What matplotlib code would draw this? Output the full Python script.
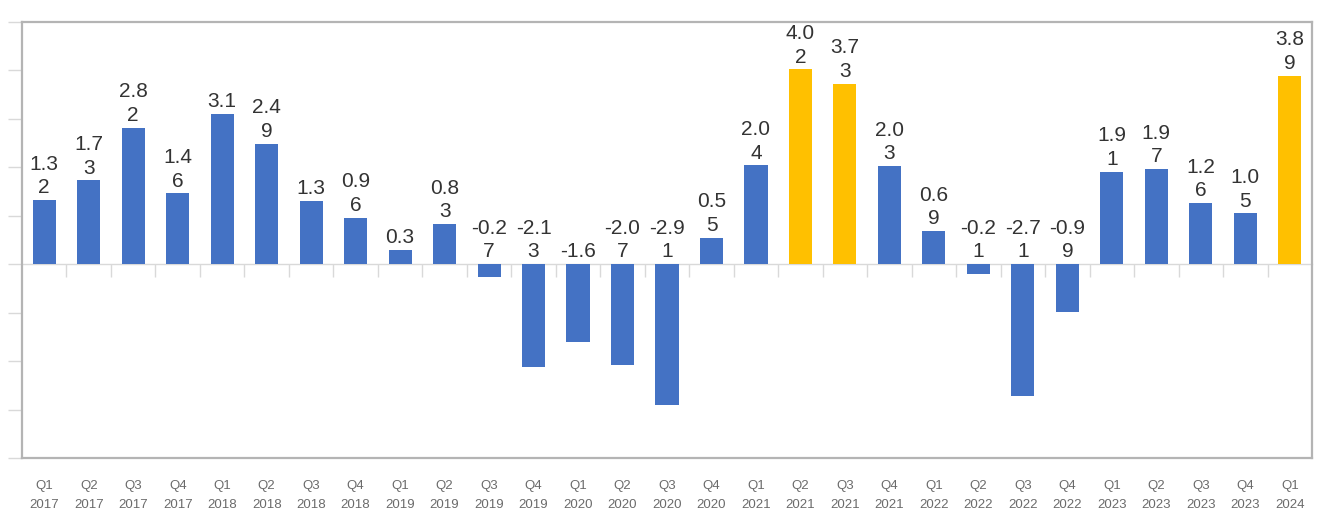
import matplotlib
matplotlib.use("Agg")
import matplotlib.pyplot as plt
import numpy as np

# --------------------------------------------------------
# DATA
# --------------------------------------------------------
quarters = ["Q1", "Q2", "Q3", "Q4"] * 7 + ["Q1"]
years = [str(y) for y in range(2017, 2024) for _ in range(4)] + ["2024"]

values = [1.32, 1.73, 2.82, 1.46,
          3.1, 2.49, 1.3, 0.96,
          0.3, 0.83, -0.27, -2.13,
          -1.6, -2.07, -2.91, 0.55,
          2.04, 4.02, 3.73, 2.03,
          0.69, -0.21, -2.71, -0.99,
          1.91, 1.97, 1.26, 1.05,
          3.89]

highlight = ["Q2 2021", "Q3 2021", "Q1 2024"]

BLUE = "#4472C4"
YELLOW = "#FFC000"
FRAME = "#B4B4B4"
LIGHT = "#D9D9D9"


def wrap_label(v):
    # Excel-style narrow label: long numbers spill onto a second line
    s = f"{v:g}"
    if len(s.lstrip("-")) > 3:
        s = s[:-1] + "\n" + s[-1]
    return s


# --------------------------------------------------------
# PLOT
# --------------------------------------------------------
plt.rcParams["font.family"] = ["Liberation Sans", "DejaVu Sans"]

fig = plt.figure(figsize=(13.32, 5.32), dpi=100)
ax = fig.add_axes([22 / 1332, 74 / 532, 1290 / 1332, 436 / 532])

x = np.arange(len(values))
labels = [f"{q}\n{y}" for q, y in zip(quarters, years)]
colors = [YELLOW if lab.replace("\n", " ") in highlight else BLUE for lab in labels]

ax.bar(x, values, width=0.52, color=colors, zorder=3)

for xi, v in zip(x, values):
    ax.annotate(wrap_label(v), (xi, max(v, 0)), xytext=(0, 2),
                textcoords="offset points", ha="center", va="bottom",
                multialignment="center", fontsize=15, color="#333333",
                linespacing=1.3, clip_on=False, zorder=4)

ax.set_xlim(-0.5, len(values) - 0.5)
ax.set_ylim(-4, 5)

# category labels under the frame
ax.set_xticks(x)
ax.set_xticklabels(labels, fontsize=9.5, color="#6b6b6b", linespacing=1.75)
ax.tick_params(axis="x", length=0, pad=16)

# value axis: ticks only, no numbers
ax.set_yticks(np.arange(-4, 6, 1))
ax.set_yticklabels([])
ax.tick_params(axis="y", length=10, width=1, color=LIGHT, direction="out")

for sp in ax.spines.values():
    sp.set_color(FRAME)
    sp.set_linewidth(1.6)

# zero line with category separators
zero_pos = (0 - (-4)) / (5 - (-4))
sec = ax.secondary_xaxis(zero_pos)
sec.set_xticks(x[:-1] + 0.5)
sec.set_xticklabels([])
sec.tick_params(axis="x", length=9, width=1, color=LIGHT, direction="out")
sec.spines["bottom"].set_color(LIGHT)
sec.spines["bottom"].set_linewidth(1)
for name in ["top", "left", "right"]:
    sec.spines[name].set_visible(False)

fig.savefig("out.png", dpi=100, facecolor="white")
